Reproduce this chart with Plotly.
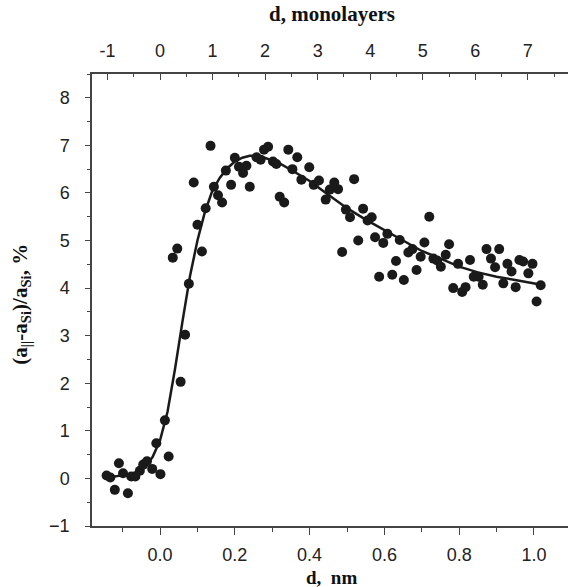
import plotly.graph_objects as go

# measured points: thickness d (nm) and relative lattice mismatch (%)
d_nm = [-0.143, -0.133, -0.121, -0.110, -0.099, -0.086, -0.077, -0.066, -0.054, -0.045,
        -0.035, -0.021, -0.010, 0.001, 0.013, 0.023, 0.055, 0.067,
        0.034, 0.046, 0.077, 0.090, 0.100, 0.112, 0.122, 0.135, 0.144, 0.155,
        0.166, 0.176, 0.190, 0.200, 0.211, 0.222, 0.231, 0.240,
        0.258, 0.269, 0.278, 0.289, 0.302, 0.311, 0.320, 0.332, 0.343, 0.354,
        0.367, 0.378, 0.399, 0.411, 0.425, 0.443, 0.454, 0.466, 0.476, 0.487,
        0.497, 0.508, 0.519, 0.530, 0.543, 0.555, 0.566, 0.575, 0.586, 0.597,
        0.608, 0.621, 0.631, 0.641, 0.652, 0.686,
        0.664, 0.675, 0.697, 0.707, 0.720, 0.731, 0.741, 0.751, 0.764, 0.773,
        0.784, 0.797, 0.808, 0.817, 0.829, 0.839, 0.852, 0.863, 0.873, 0.885,
        0.896, 0.907, 0.918, 0.929, 0.940, 0.951, 0.961, 0.971, 0.985, 0.996,
        1.007, 1.018]
mismatch = [0.06, 0.02, -0.24, 0.32, 0.11, -0.31, 0.04, 0.04, 0.16, 0.29,
            0.36, 0.20, 0.74, 0.09, 1.22, 0.46, 2.03, 3.02,
            4.64, 4.83, 4.09, 6.22, 5.33, 4.77, 5.68, 6.99, 6.13, 5.95,
            5.80, 6.47, 6.17, 6.74, 6.55, 6.42, 6.57, 6.13,
            6.75, 6.70, 6.91, 6.97, 6.66, 6.61, 5.92, 5.80, 6.91, 6.50,
            6.75, 6.28, 6.54, 6.17, 6.26, 5.86, 6.07, 6.22, 6.08, 4.76,
            5.65, 5.49, 6.29, 5.00, 5.67, 5.42, 5.49, 5.07, 4.24, 4.95,
            5.14, 4.28, 4.57, 5.01, 4.17, 4.38,
            4.75, 4.82, 4.66, 4.96, 5.50, 4.62, 4.58, 4.45, 4.70, 4.92,
            4.00, 4.51, 3.92, 4.02, 4.59, 4.24, 4.24, 4.07, 4.82, 4.62,
            4.44, 4.82, 4.10, 4.51, 4.35, 4.02, 4.59, 4.56, 4.31, 4.51,
            3.72, 4.06]

# fitted curve
fit_d = [-0.14, -0.12, -0.10, -0.08, -0.06, -0.04, -0.02, 0.00, 0.02, 0.04, 0.06,
         0.08, 0.10, 0.12, 0.14, 0.16, 0.18, 0.20, 0.22, 0.24, 0.26, 0.28, 0.30,
         0.32, 0.36, 0.40, 0.45, 0.50, 0.55, 0.60, 0.65, 0.70, 0.75, 0.80, 0.85,
         0.90, 0.95, 1.00, 1.02]
fit_m = [0.02, 0.04, 0.06, 0.09, 0.14, 0.25, 0.45, 0.80, 1.40, 2.30, 3.30,
         4.25, 5.00, 5.60, 6.05, 6.32, 6.52, 6.66, 6.74, 6.78, 6.78, 6.74, 6.68,
         6.62, 6.44, 6.25, 5.96, 5.68, 5.44, 5.22, 5.00, 4.78, 4.62, 4.45, 4.33,
         4.24, 4.17, 4.10, 4.07]

ml_ticks = [-1, 0, 1, 2, 3, 4, 5, 6, 7]
nm_per_ml = 0.1405
x_range = [-0.182, 1.091]

tick_font = dict(family="Liberation Sans", size=18, color="#222")
title_font = dict(family="Liberation Serif", size=21, color="#111")
axis_col = "#444"

fig = go.Figure()
fig.add_trace(go.Scatter(x=d_nm, y=mismatch, mode="markers",
                         marker=dict(size=10, color="#1a1a1a"), showlegend=False))
fig.add_trace(go.Scatter(x=fit_d, y=fit_m, mode="lines",
                         line=dict(color="#1a1a1a", width=2.5), showlegend=False))
fig.add_trace(go.Scatter(x=[ml_ticks[0]], y=[0], xaxis="x2", mode="markers",
                         marker=dict(opacity=0), showlegend=False, hoverinfo="skip"))

fig.update_layout(
    width=568, height=587,
    margin=dict(l=92, r=0, t=74, b=61),
    paper_bgcolor="white", plot_bgcolor="white",
    xaxis=dict(range=x_range, tick0=0, dtick=0.2, tickformat=".1f",
               showgrid=False, zeroline=False, showline=True, linecolor=axis_col,
               linewidth=1.5, ticks="outside", ticklen=7, tickwidth=1.3,
               tickcolor=axis_col, tickfont=tick_font, ticklabelstandoff=5,
               minor=dict(dtick=0.1, tick0=0, ticks="outside", ticklen=4,
                          tickcolor=axis_col, showgrid=False)),
    xaxis2=dict(overlaying="x", side="top", anchor="y",
                range=[x_range[0] / nm_per_ml, x_range[1] / nm_per_ml],
                tickvals=ml_ticks, ticktext=[str(v) for v in ml_ticks],
                showgrid=False, zeroline=False, showline=True, linecolor=axis_col,
                linewidth=1.5, ticks="inside", ticklen=6, tickwidth=1.3,
                tickcolor=axis_col, tickfont=tick_font, ticklabelstandoff=8,
                minor=dict(dtick=0.5, tick0=0, ticks="inside", ticklen=3,
                           tickcolor=axis_col, showgrid=False)),
    yaxis=dict(range=[-1.0, 8.5], tick0=0, dtick=1,
               showgrid=False, zeroline=False, showline=True, linecolor=axis_col,
               linewidth=1.5, ticks="outside", ticklen=5, tickwidth=1.3,
               tickcolor=axis_col, tickfont=tick_font, ticklabelstandoff=12,
               minor=dict(dtick=0.5, tick0=0, ticks="outside", ticklen=3,
                          tickcolor=axis_col, showgrid=False)),
    annotations=[
        dict(text="<b>d, monolayers</b>", xref="paper", yref="paper", x=0.504, y=1.133,
             showarrow=False, font=title_font, xanchor="center", yanchor="middle"),
        dict(text="<b>d,  nm</b>", xref="paper", yref="paper", x=0.504, y=-0.114,
             showarrow=False, font=dict(family="Liberation Serif", size=19, color="#111"),
             xanchor="center", yanchor="middle"),
        dict(text="<b>(a<sub>||</sub>-a<sub>Si</sub>)/a<sub>Si</sub>, %</b>",
             xref="paper", yref="paper", x=-0.151, y=0.49, textangle=-90,
             showarrow=False, font=title_font, xanchor="center", yanchor="middle"),
    ],
)

fig.write_html("out.html", config={"displayModeBar": False},
               post_script="document.body.style.margin='0';document.body.style.padding='0';")
